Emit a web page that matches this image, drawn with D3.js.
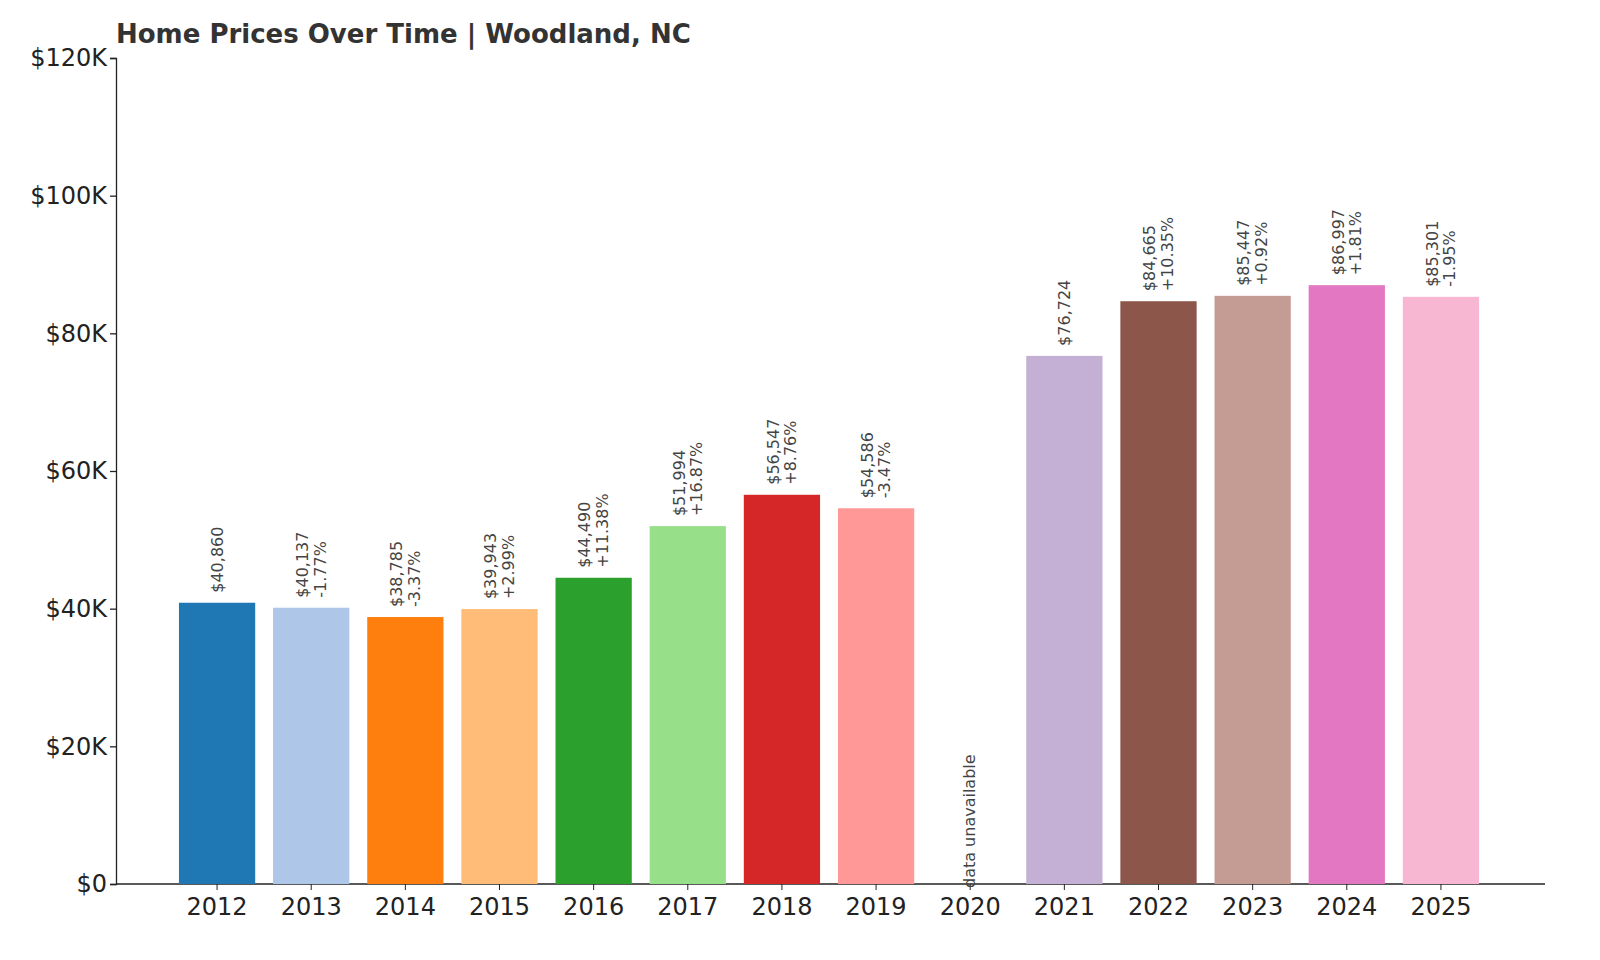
<!DOCTYPE html>
<html><head><meta charset="utf-8">
<script src="https://cdn.jsdelivr.net/npm/d3@7"></script>
<style>body{margin:0;background:#fff}</style>
</head><body>
<script>
var years = ["2012","2013","2014","2015","2016","2017","2018","2019","2020","2021","2022","2023","2024","2025"];
var prices = [40860,40137,38785,39943,44490,51994,56547,54586,null,76724,84665,85447,86997,85301];
var changes = [null,"-1.77%","-3.37%","+2.99%","+11.38%","+16.87%","+8.76%","-3.47%",null,null,"+10.35%","+0.92%","+1.81%","-1.95%"];
var colors = ["#1f77b4","#aec7e8","#ff7f0e","#ffbb78","#2ca02c","#98df8a","#d62728","#ff9896","#9467bd","#c5b0d5","#8c564b","#c49c94","#e377c2","#f7b6d2"];
var yTicks = [0,20000,40000,60000,80000,100000,120000];

var svg = d3.select("body").append("svg").attr("width",1600).attr("height",960)
  .style("font-family","DejaVu Sans");

var x = d3.scaleBand().domain(years).range([170,1488]).paddingInner(0.19).paddingOuter(0.095);
var y = d3.scaleLinear().domain([0,120000]).range([884,58]);

svg.append("text").attr("x",116).attr("y",43).attr("font-size",26).attr("font-weight","bold")
  .attr("fill","#333").text("Home Prices Over Time | Woodland, NC");

svg.append("g").attr("transform","translate(116,0)")
  .call(d3.axisLeft(y).tickValues(yTicks).tickFormat(function(d){return d===0?"$0":"$"+d/1000+"K";}).tickSize(6))
  .call(function(g){g.selectAll("text").attr("font-size",24).attr("fill","#222").attr("font-family","DejaVu Sans");
    g.selectAll("line,path").attr("stroke","#222").attr("stroke-width",1.3);});

svg.append("g").attr("transform","translate(0,884)")
  .call(d3.axisBottom(x).tickSize(6))
  .call(function(g){g.select(".domain").remove();
    g.selectAll("text").attr("font-size",24).attr("fill","#222").attr("font-family","DejaVu Sans").attr("dy","0.9em");
    g.selectAll("line").attr("stroke","#222");});
svg.append("line").attr("x1",116).attr("x2",1545).attr("y1",884).attr("y2",884).attr("stroke","#222").attr("stroke-width",1.3);

years.forEach(function(yr,i){
  var cx = x(yr)+x.bandwidth()/2;
  if(prices[i]==null){
    svg.append("text").attr("transform","translate("+(cx+5)+",888) rotate(-90)")
      .attr("font-size",16).attr("fill","#444").text("data unavailable");
    return;
  }
  svg.append("rect").attr("x",x(yr)).attr("width",x.bandwidth())
    .attr("y",y(prices[i])).attr("height",884-y(prices[i])).attr("fill",colors[i]);
  var t = svg.append("text").attr("transform","translate("+cx+","+(y(prices[i])-10)+") rotate(-90)")
    .attr("font-size",16).attr("fill","#444");
  var v = "$"+d3.format(",")(prices[i]);
  if(changes[i]){
    t.append("tspan").attr("x",0).attr("dy","-0.2em").text(v);
    t.append("tspan").attr("x",0).attr("dy","1.1em").text(changes[i]);
  } else {
    t.append("tspan").attr("x",0).attr("dy","0.35em").text(v);
  }
});
</script>
</body></html>
